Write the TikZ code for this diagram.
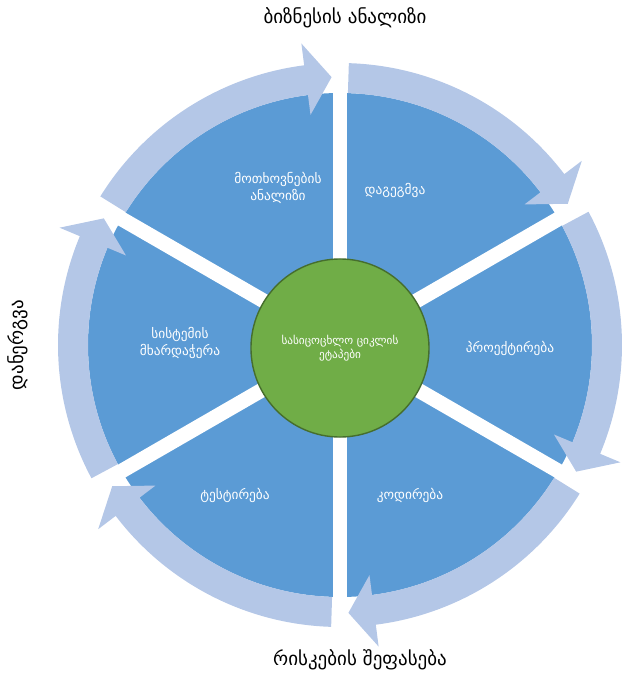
\documentclass[tikz,border=0pt]{standalone}
\usepackage{fontspec}
\newfontfamily\geo{DejaVu Sans}
\definecolor{sectorblue}{RGB}{91,155,213}
\definecolor{ringblue}{RGB}{180,199,231}
\definecolor{hubgreen}{RGB}{112,173,71}
\definecolor{hubedge}{RGB}{70,110,45}
\tikzset{
	>=latex,
	seglabel/.style={text=white, font=\geo\fontsize{9.5}{12}\selectfont, align=center},
	outlabel/.style={text=black, font=\geo\fontsize{13.5}{16}\selectfont},
	hubnode/.style={circle, fill=hubgreen, draw=hubedge, line width=1pt, minimum size=4.45cm, text=white, font=\geo\fontsize{8}{10}\selectfont, align=center}
}
\begin{document}
\begin{tikzpicture}[scale=0.025]
	%\draw[help lines] (-340,-332) grid[step=20] (296,345);
	\useasboundingbox (-340,-332) rectangle (296,345);

	\fill[sectorblue] (0,0) circle (252);
	\foreach \a in {30,90,...,330}{
		\draw[white, line width=10.5pt] (0,0) -- (\a:254);
	}

	% ring arrows, clockwise
	\foreach \s in {90,150,...,390}{
		\pgfmathsetmacro{\b}{\s-1.8}
		\pgfmathsetmacro{\t}{\s-60+1.8}
		\pgfmathsetmacro{\h}{\s-60+7.3}
		\fill[ringblue] (\b:252) arc[start angle=\b, end angle=\h, radius=252]
			-- (\h:232) -- (\t:268) -- (\h:304) -- (\h:282)
			arc[start angle=\h, end angle=\b, radius=282] -- cycle;
	}

	\node[hubnode] (hub) at (0,-3) {სასიცოცხლო ციკლის\\ეტაპები};

	\node[seglabel] (req) at (-62,157) {მოთხოვნების\\ანალიზი};
	\node[seglabel] (plan) at (55,155) {დაგეგმვა};
	\node[seglabel] (design) at (170,-3) {პროექტირება};
	\node[seglabel] (code) at (70,-150) {კოდირება};
	\node[seglabel] (test) at (-105,-150) {ტესტირება};
	\node[seglabel] (support) at (-160,2) {სისტემის\\მხარდაჭერა};

	\node[outlabel] (toplabel) at (5,327) {ბიზნესის ანალიზი};
	\node[outlabel, rotate=90] (leftlabel) at (-322,0) {დანერგვა};
	\node[outlabel] (bottomlabel) at (20,-315) {რისკების შეფასება};

\end{tikzpicture}
\end{document}
